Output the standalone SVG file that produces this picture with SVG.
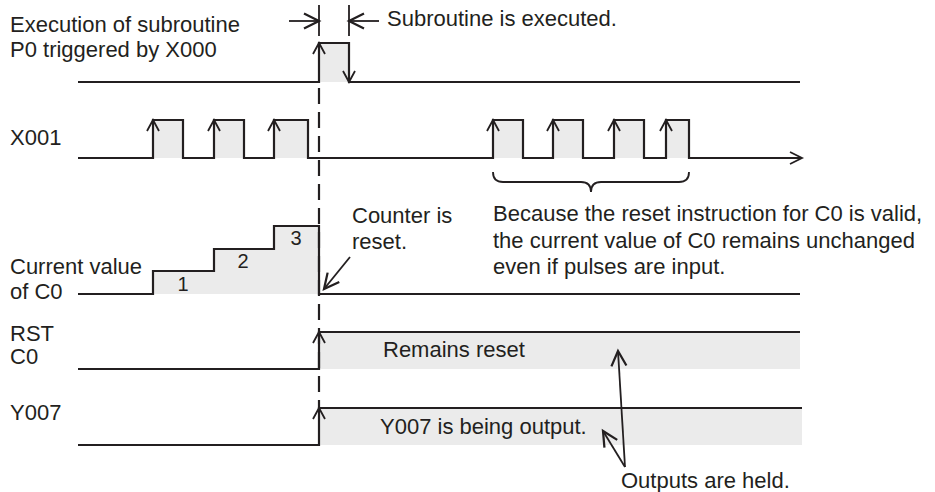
<svg xmlns="http://www.w3.org/2000/svg" xmlns:xlink="http://www.w3.org/1999/xlink" width="935" height="492" viewBox="0 0 935 492">
<style>
.t{font-family:"Liberation Sans",Arial,sans-serif;font-size:22px;fill:#231f20}
.n{font-family:"Liberation Sans",Arial,sans-serif;font-size:20px;fill:#231f20;text-anchor:middle}
.w{fill:none;stroke:#231f20;stroke-width:2.2;stroke-linejoin:miter}
.a{fill:none;stroke:#231f20;stroke-width:1.8}
.g{fill:#ebebeb;stroke:none}
.d{fill:none;stroke:#231f20;stroke-width:2.2;stroke-dasharray:16 8}
</style>
<defs>
<path id="up" d="M-6,11 L0,0 L6,11" class="a"/>
<path id="dn" d="M-6,-11 L0,0 L6,-11" class="a"/>
<marker id="ah" markerUnits="userSpaceOnUse" markerWidth="20" markerHeight="20" refX="0" refY="0" viewBox="-14 -8 16 16" orient="auto" overflow="visible">
<path d="M-12,-6 L0,0 L-12,6" fill="none" stroke="#231f20" stroke-width="1.8"/>
</marker>
</defs>
<rect width="935" height="492" fill="#fff"/>

<g id="row-p0">
<rect class="g" x="319" y="43" width="30" height="39"/>
<polyline class="w" points="78,82 319,82 319,43 349,43 349,82 800,82"/>
<use xlink:href="#up" x="319" y="43"/>
<use xlink:href="#dn" x="349" y="82"/>
<text class="t" x="10" y="32">Execution of subroutine</text>
<text class="t" x="10" y="57">P0 triggered by X000</text>
</g>

<g id="dimension">
<line class="a" x1="319" y1="5" x2="319" y2="36"/>
<line class="a" x1="349" y1="5" x2="349" y2="36"/>
<text class="t" x="387" y="26">Subroutine is executed.</text>
</g>

<g id="row-x001">
<rect class="g" x="153" y="120" width="30" height="38"/>
<rect class="g" x="214" y="120" width="30" height="38"/>
<rect class="g" x="274" y="120" width="34" height="38"/>
<rect class="g" x="493" y="120" width="30" height="38"/>
<rect class="g" x="553" y="120" width="30" height="38"/>
<rect class="g" x="614" y="120" width="30" height="38"/>
<rect class="g" x="666" y="120" width="23" height="38"/>
<polyline class="w" points="78,158 153,158 153,120 183,120 183,158 214,158 214,120 244,120 244,158 274,158 274,120 308,120 308,158 493,158 493,120 523,120 523,158 553,158 553,120 583,120 583,158 614,158 614,120 644,120 644,158 666,158 666,120 689,120 689,158 802,158"/>
<path class="a" d="M790,152 L802,158 L790,164"/>
<use xlink:href="#up" x="153" y="120"/>
<use xlink:href="#up" x="214" y="120"/>
<use xlink:href="#up" x="274" y="120"/>
<use xlink:href="#up" x="493" y="120"/>
<use xlink:href="#up" x="553" y="120"/>
<use xlink:href="#up" x="614" y="120"/>
<use xlink:href="#up" x="666" y="120"/>
<text class="t" x="10" y="145">X001</text>
</g>

<g id="brace-note">
<path class="a" d="M493,172 Q493,182 503,182 L581,182 Q591,182 591,192 Q591,182 601,182 L679,182 Q689,182 689,172"/>
<text class="t" x="493" y="221">Because the reset instruction for C0 is valid,</text>
<text class="t" x="493" y="248">the current value of C0 remains unchanged</text>
<text class="t" x="493" y="274">even if pulses are input.</text>
</g>

<g id="row-c0">
<polygon class="g" points="153,294 153,271 214,271 214,249 274,249 274,226 319,226 319,294"/>
<polyline class="w" points="78,294 153,294 153,271 214,271 214,249 274,249 274,226 319,226 319,294 800,294"/>
<text class="n" x="183" y="291">1</text>
<text class="n" x="243" y="268">2</text>
<text class="n" x="296" y="245">3</text>
<text class="t" x="10" y="274">Current value</text>
<text class="t" x="10" y="299">of C0</text>
</g>

<g id="counter-note">
<text class="t" x="352" y="223">Counter is</text>
<text class="t" x="352" y="249">reset.</text>
</g>

<g id="row-rst">
<rect class="g" x="319" y="332" width="481" height="37"/>
<polyline class="w" points="78,369 319,369 319,332 800,332"/>
<use xlink:href="#up" x="319" y="332"/>
<text class="t" x="10" y="341">RST</text>
<text class="t" x="10" y="364">C0</text>
<text class="t" x="383" y="357">Remains reset</text>
</g>

<g id="row-y007">
<rect class="g" x="319" y="408" width="483" height="37"/>
<polyline class="w" points="78,445 319,445 319,408 802,408"/>
<use xlink:href="#up" x="319" y="408"/>
<text class="t" x="10" y="420">Y007</text>
<text class="t" x="380" y="434">Y007 is being output.</text>
</g>

<g id="held-note">
<text class="t" x="621" y="488">Outputs are held.</text>
</g>

<g id="connectors">
<line class="d" x1="319" y1="88" x2="319" y2="408"/>
<line class="a" x1="289" y1="21" x2="319" y2="21" marker-end="url(#ah)"/>
<line class="a" x1="379" y1="21" x2="349" y2="21" marker-end="url(#ah)"/>
<line class="a" x1="350" y1="257" x2="324" y2="289" marker-end="url(#ah)"/>
<line class="a" x1="625" y1="467" x2="618" y2="351" marker-end="url(#ah)"/>
<line class="a" x1="625" y1="467" x2="603" y2="431" marker-end="url(#ah)"/>
</g>
</svg>
